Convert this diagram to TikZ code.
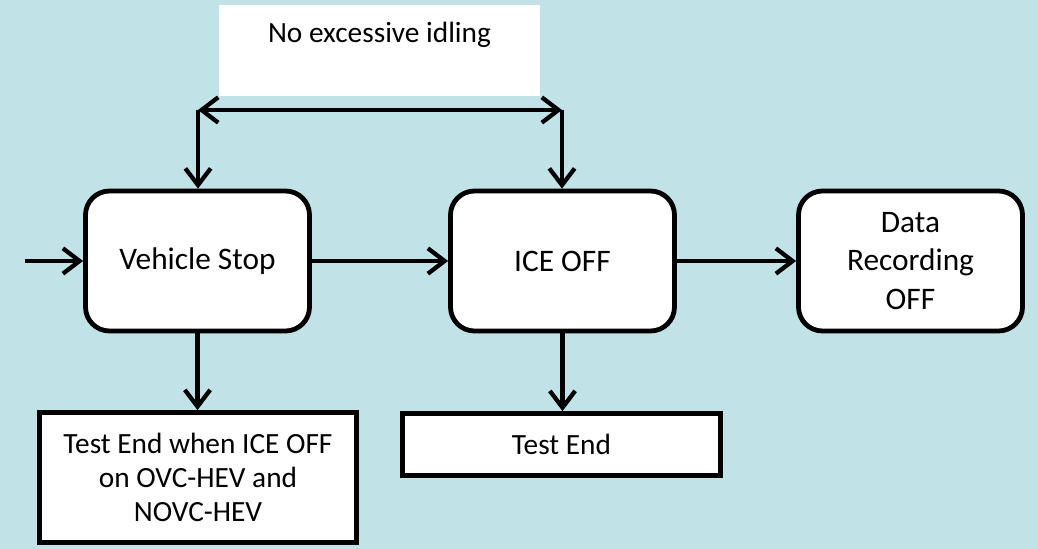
\documentclass[tikz,border=0pt]{standalone}
\usepackage{fontspec}
\setmainfont{Carlito}
\usetikzlibrary{arrows.meta}
\definecolor{bg}{RGB}{193,226,230}
\begin{document}
\begin{tikzpicture}[x=0.75pt,y=-0.75pt,
  rbox/.style={draw, line width=3.6pt, fill=white, rounded corners=18pt,
    minimum width=168pt, minimum height=105pt, align=center, inner sep=0pt,
    font=\fontsize{23.5}{29}\selectfont},
  sbox/.style={draw, line width=3.6pt, fill=white, minimum width=238pt,
    align=center, inner sep=0pt, font=\fontsize{22}{25.5}\selectfont},
  idlebox/.style={fill=white, anchor=north, minimum width=240.75pt, inner xsep=0pt,
    inner ysep=0pt, text height=27.75pt, text depth=40.5pt,
    font=\fontsize{22}{26}\selectfont},
  arr/.style={line width=3.2pt, -{Straight Barb[length=12.5pt,width=19pt]}},
  darr/.style={line width=3.2pt, {Straight Barb[length=12.5pt,width=19pt]}-{Straight Barb[length=12.5pt,width=19pt]}}
]
\fill[bg] (0,0) rectangle (1038,549);
\useasboundingbox (0,0) rectangle (1038,549);

\node[idlebox] (idle) at (379.5,5) {No excessive idling};
\node[rbox] (vs) at (197.5,261) {Vehicle Stop};
\node[rbox] (ice) at (562.5,261) {ICE OFF};
\node[rbox] (data) at (910.5,261) {Data\\Recording\\OFF};
\node[sbox, minimum height=97.5pt] (te1) at (198,477.5) {Test End when ICE OFF\\on OVC-HEV and\\NOVC-HEV};
\node[sbox, minimum height=46.5pt] (te2) at (561.5,444.5) {Test End};

\coordinate (in) at (25,261);
\coordinate (cl) at (198,110);
\coordinate (cr) at (562,110);

\draw[arr] (in) -- (vs.west);
\draw[arr] (vs.east) -- (ice.west);
\draw[arr] (ice.east) -- (data.west);
\draw[arr] (vs.south) -- (vs.south |- te1.north);
\draw[arr] (ice.south) -- (ice.south |- te2.north);
\draw[arr] (cl) -- (cl |- vs.north);
\draw[arr] (cr) -- (cr |- ice.north);
\draw[darr] (cl) -- (cr);
\end{tikzpicture}
\end{document}
